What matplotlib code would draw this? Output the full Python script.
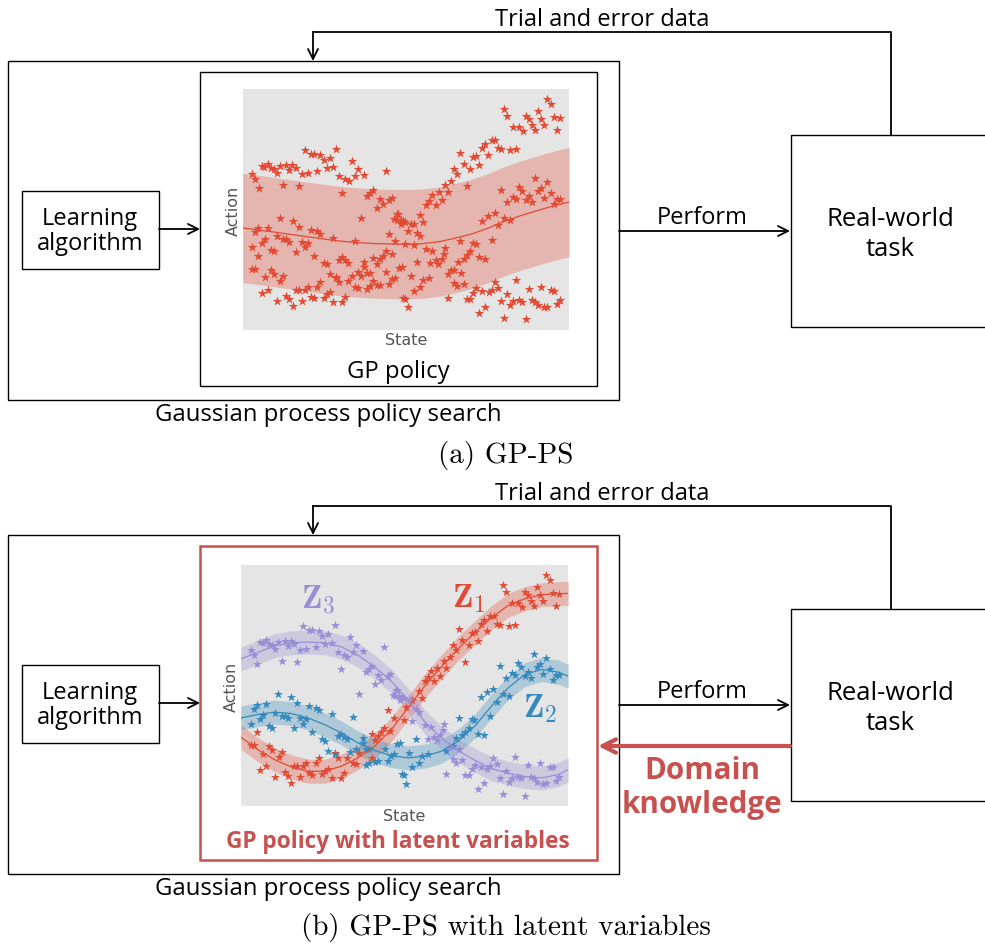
import matplotlib
matplotlib.use('Agg')
import matplotlib.pyplot as plt
from matplotlib.patches import Rectangle

plt.rcParams['font.family'] = ['Open Sans', 'DejaVu Sans']
plt.rcParams['mathtext.fontset'] = 'cm'

# ---- data (state / action in arbitrary units, both charts share the same samples) ----
# latent z1 (red)
z1_state = [47, 392, 402, 411, 420, 429, 439, 447, 457,
            29, 38, 57, 66, 76, 85, 94, 103, 113, 122, 131, 140, 150, 159, 168, 178, 187, 196,
            205, 214, 224, 233, 243, 252, 261, 271, 280, 289, 299, 308, 317, 336, 345, 354, 392,
            784, 793, 812, 830, 840, 849, 858, 868, 877, 886, 895, 905, 914, 924, 933, 943, 951,
            551, 560, 569, 579, 588, 597, 607, 615, 625, 635, 644, 653, 663, 672, 682, 691, 700,
            709, 719, 728, 737, 747, 757, 766, 776, 802, 821,
            495, 513, 532, 541, 487]
z1_action = [223, 217, 199, 212, 222, 236, 289, 227, 266,
             184, 183, 110, 158, 120, 180, 168, 88, 147, 163, 102, 92, 71, 121, 121, 88, 121, 129,
             99, 95, 129, 145, 96, 107, 113, 84, 159, 144, 84, 99, 146, 129, 126, 161, 146,
             663, 642, 609, 609, 598, 641, 633, 614, 599, 657, 634, 614, 693, 678, 639, 601, 637,
             374, 388, 405, 375, 413, 391, 435, 413, 448, 483, 468, 531, 499, 432, 483, 519, 521,
             494, 545, 559, 526, 569, 571, 547, 543, 540, 542,
             297, 319, 345, 324, 259]

# latent z2 (blue)
z2_state = [29, 38, 47, 57, 66, 76, 85, 94, 103, 112, 122, 131, 140, 150, 159, 168, 178, 187,
            196, 205, 214, 224, 233, 243, 252, 261, 271, 280, 289, 298, 308, 317, 327, 336, 345,
            364, 373, 382, 468, 477,
            364, 373, 382, 402, 411, 430, 439, 448, 457, 482,
            615, 635, 645, 653, 663, 672, 682, 691, 699, 709, 718, 728, 737, 747, 756, 766, 775,
            784, 794, 803, 812, 821, 830, 839, 849, 859, 868, 877, 886, 895, 905, 914, 924, 933,
            942, 951,
            487, 495, 504, 513, 523, 532, 541, 560]
z2_action = [248, 293, 305, 262, 273, 307, 241, 236, 281, 335, 272, 272, 265, 328, 234, 309, 264, 248,
             261, 301, 222, 296, 288, 202, 197, 167, 276, 157, 211, 218, 209, 201, 163, 268, 173,
             204, 171, 171, 187, 190,
             189, 124, 131, 134, 136, 173, 137, 152, 156, 96,
             167, 181, 204, 266, 214, 224, 236, 262, 259, 218, 326, 213, 343, 270, 350, 314, 419,
             336, 383, 330, 399, 392, 429, 417, 389, 403, 383, 457, 416, 426, 397, 443, 410, 379,
             392, 394,
             94, 68, 161, 117, 203, 129, 151, 156]

# latent z3 (purple)
z3_state = [29, 38, 48, 57, 65, 75, 84, 93, 103, 112, 122, 131, 140, 149, 159, 168, 178, 187,
            196, 205, 214, 224, 233, 243, 252, 261, 271, 280, 289, 299, 308, 318, 327, 336, 345,
            354, 364, 373, 382, 392, 402, 411, 420, 429, 439, 447, 455, 464, 474,
            467, 462, 476, 482,
            487, 505, 523, 532, 513, 551, 561, 569, 579, 587, 597, 605, 607, 625, 654,
            615, 635, 644, 663, 672, 682, 691, 700, 709, 719, 728, 738, 747, 756, 766, 775, 784,
            793, 802, 812, 821, 830, 839, 849, 859, 868, 877, 886, 895, 905, 914, 924, 933, 942, 951]
z3_action = [467, 452, 427, 491, 489, 497, 486, 482, 471, 491, 436, 496, 479, 495, 487, 432, 469, 539,
             471, 527, 529, 476, 525, 510, 486, 515, 488, 543, 463, 410, 452, 447, 506, 463, 484,
             336, 465, 403, 411, 421, 365, 392, 377, 477, 389, 397, 333, 348, 329,
             349, 331, 319, 327,
             324, 319, 291, 283, 255, 244, 202, 237, 209, 199, 214, 229, 247, 179, 171,
             96, 141, 131, 139, 93, 94, 111, 125, 51, 117, 69, 113, 121, 145, 127, 86, 37,
             107, 74, 86, 149, 89, 84, 32, 123, 89, 84, 74, 129, 68, 69, 119, 117, 77, 89]

# single GP fit (panel a)
gp_state = [0, 50, 100, 150, 200, 250, 300, 350, 400, 450, 490, 540, 590, 640, 690, 740, 790,
            840, 890, 935, 980]
gp_mean = [306, 300, 293, 286, 279, 272, 266, 262, 259, 258, 257, 259, 265, 276, 289, 307, 328,
           345, 360, 373, 384]
gp_sd = 164

# latent GP fits (panel b)
lat_state = [0, 50, 100, 150, 200, 250, 300, 350, 400, 450, 500, 550, 600, 650, 700, 750, 800,
             850, 900, 950, 980]
z1_mean = [207, 170, 140, 118, 105, 105, 120, 145, 180, 230, 295, 360, 418, 472, 520, 565, 602,
           622, 634, 637, 638]
z2_mean = [265, 275, 282, 278, 265, 245, 220, 190, 167, 152, 145, 150, 165, 195, 240, 300, 355,
           395, 410, 402, 390]
z3_mean = [442, 461, 481, 490, 492, 490, 478, 453, 418, 375, 318, 253, 205, 167, 138, 113, 99,
           89, 85, 95, 110]
lat_sd = 36

RED = '#E24A33'
BLUE = '#348ABD'
PURPLE = '#988ED5'
DARKRED = '#C8504F'
W, H = 985, 945

fig = plt.figure(figsize=(W / 100, H / 100), dpi=100)
bg = fig.add_axes([0, 0, 1, 1])
bg.set_xlim(0, W)
bg.set_ylim(H, 0)
bg.axis('off')


def box(x0, y0, x1, y1, color='black', lw=1.0):
    bg.add_patch(Rectangle((x0, y0), x1 - x0, y1 - y0, fill=False, ec=color, lw=lw))


def arrow(x0, y0, x1, y1, color='black', lw=1.3, ms=18):
    bg.annotate('', xy=(x1, y1), xytext=(x0, y0),
                arrowprops=dict(arrowstyle='->', color=color, lw=lw, mutation_scale=ms,
                                shrinkA=0, shrinkB=0))


def label(x, y, s, size, **kw):
    # small downward nudge: Open Sans sits a little high with va='center'
    bg.text(x, y + 2, s, ha='center', va='center', fontsize=size, **kw)


def chart(rect):
    ax = fig.add_axes(rect)
    ax.set_facecolor('#E5E5E5')
    for sp in ax.spines.values():
        sp.set_visible(False)
    ax.set_xticks([])
    ax.set_yticks([])
    ax.set_xlim(0, 980)
    ax.set_ylim(0, 723)
    ax.set_xlabel('State', color='#555555', fontsize=11.5, labelpad=1.5, family='DejaVu Sans')
    ax.set_ylabel('Action', color='#555555', fontsize=11.5, labelpad=1.5, family='DejaVu Sans')
    return ax


def panel(dy, latent):
    # frames
    box(8, 62 + dy, 619, 401 + dy)
    if latent:
        box(200, 73 + dy, 597, 387 + dy, color=DARKRED, lw=1.8)
    else:
        box(200, 73 + dy, 597, 387 + dy)
    box(22, 192 + dy, 159, 270 + dy)
    box(791, 136 + dy, 990, 328 + dy)
    label(90, 217 + dy, 'Learning', 17)
    label(90, 242 + dy, 'algorithm', 17)
    label(890, 218 + dy, 'Real-world', 18.5)
    label(890, 247 + dy, 'task', 18.5)
    arrow(159, 230 + dy, 200, 230 + dy)
    arrow(619, 232 + dy, 790, 232 + dy)
    label(702, 216 + dy, 'Perform', 17)
    bg.plot([891, 891, 313], [136 + dy, 33 + dy, 33 + dy], color='black', lw=1.3)
    arrow(313, 33 + dy, 313, 62 + dy)
    label(602, 18 + dy, 'Trial and error data', 17)
    label(328, 413 + dy, 'Gaussian process policy search', 17.2)


# ---------------- panel (a) ----------------
panel(0, False)
label(398, 370, 'GP policy', 17.2)
bg.text(506, 455, '(a) GP-PS', ha='center', va='center', fontsize=21, family='cmr10')

ax1 = chart([242.7 / W, 1 - 331 / H, 326.6 / W, 241 / H])
lo = [m - gp_sd for m in gp_mean]
hi = [m + gp_sd for m in gp_mean]
ax1.fill_between(gp_state, lo, hi, color=RED, alpha=0.3, lw=0)
for s, a in [(z1_state, z1_action), (z2_state, z2_action), (z3_state, z3_action)]:
    ax1.scatter(s, a, marker='*', s=52, color=RED, lw=0)
ax1.plot(gp_state, gp_mean, color=RED, lw=0.9)

# ---------------- panel (b) ----------------
dy = 474
panel(dy, True)
label(398, 840, 'GP policy with latent variables', 16.3, color=DARKRED, fontweight='bold')
arrow(790, 747, 598, 747, color=DARKRED, lw=3, ms=24)
label(702, 769, 'Domain', 21.3, color=DARKRED, fontweight='bold')
label(702, 803, 'knowledge', 21.3, color=DARKRED, fontweight='bold')
bg.text(506, 928, '(b) GP-PS with latent variables', ha='center', va='center', fontsize=21,
        family='cmr10')

ax2 = chart([241 / W, 1 - 807.3 / H, 327.3 / W, 241.3 / H])
series = [(z1_state, z1_action, z1_mean, RED),
          (z2_state, z2_action, z2_mean, BLUE),
          (z3_state, z3_action, z3_mean, PURPLE)]
for st, ac, mean, col in series:
    ax2.fill_between(lat_state, [m - lat_sd for m in mean], [m + lat_sd for m in mean],
                     color=col, alpha=0.3, lw=0)
for st, ac, mean, col in series:
    ax2.scatter(st, ac, marker='*', s=46, color=col, lw=0)
    ax2.plot(lat_state, mean, color=col, lw=0.9)

ax2.text(231, 622, r'$\mathbf{Z}_3$', color=PURPLE, fontsize=24, ha='center', va='center')
ax2.text(681, 625, r'$\mathbf{Z}_1$', color=RED, fontsize=24, ha='center', va='center')
ax2.text(897, 295, r'$\mathbf{Z}_2$', color=BLUE, fontsize=24, ha='center', va='center')

fig.savefig('out.png', dpi=100)
